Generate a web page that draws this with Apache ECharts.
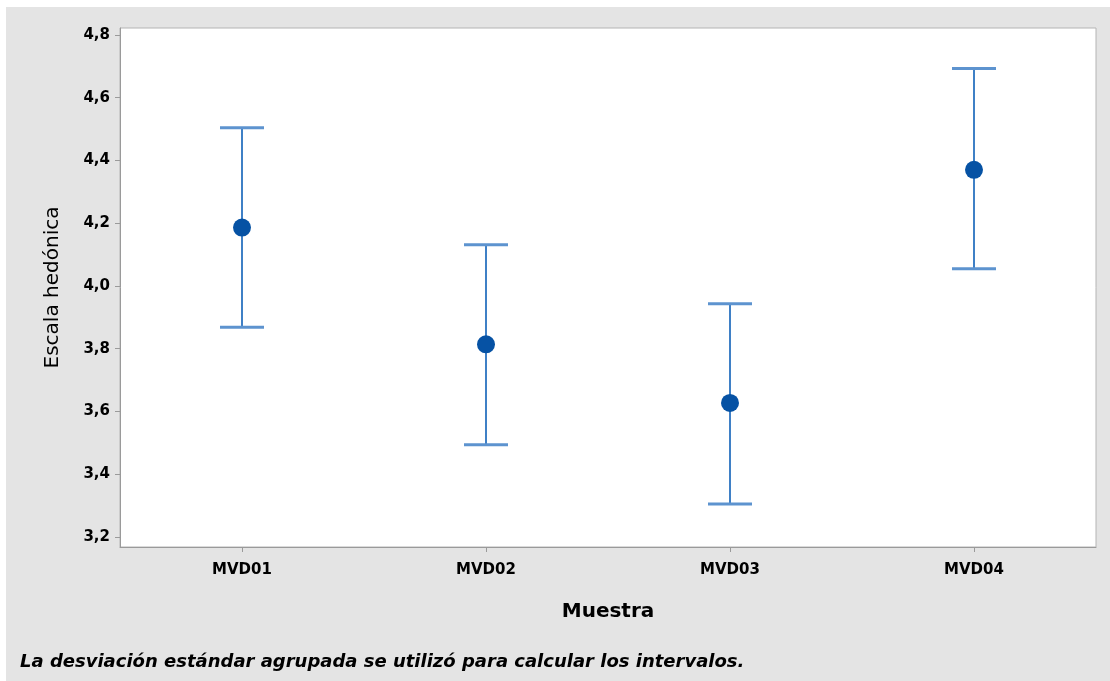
<!DOCTYPE html>
<html>
<head>
<meta charset="utf-8">
<script src="https://cdn.jsdelivr.net/npm/echarts@6/dist/echarts.min.js"></script>
<style>
  html, body { margin: 0; padding: 0; background: #ffffff; }
  #chart { position: absolute; left: 6px; top: 7px; width: 1104px; height: 674px; }
</style>
</head>
<body>
<div id="chart"></div>
<script>
// Muestras evaluadas
const categories = ['MVD01', 'MVD02', 'MVD03', 'MVD04'];
// Media de la escala hedónica por muestra
const means = [4.186, 3.814, 3.627, 4.370];
// Límites del intervalo (desviación estándar agrupada)
const lower = [3.868, 3.494, 3.305, 4.055];
const upper = [4.504, 4.131, 3.943, 4.693];
// Marcas del eje Y
const yTicks = [3.2, 3.4, 3.6, 3.8, 4.0, 4.2, 4.4, 4.6, 4.8];

const barColor = '#3f80c6';
const capColor = '#5d93cf';
const dotColor = '#0652a4';

const chart = echarts.init(document.getElementById('chart'));

const intervalData = categories.map((c, i) => [i, lower[i], upper[i]]);

chart.setOption({
  backgroundColor: '#e4e4e4',
  animation: false,
  grid: {
    left: 114, top: 21, right: 14, bottom: 134,
    show: true, backgroundColor: '#ffffff', borderColor: '#b4b4b4', borderWidth: 1
  },
  xAxis: {
    type: 'category',
    data: categories,
    boundaryGap: true,
    name: 'Muestra',
    nameLocation: 'middle',
    nameGap: 55,
    nameTextStyle: { fontFamily: 'DejaVu Sans', fontSize: 20, fontWeight: 'bold', color: '#000' },
    axisLine: { show: true, lineStyle: { color: '#9a9a9a' } },
    axisTick: { show: true, alignWithLabel: true, length: 5, lineStyle: { color: '#9a9a9a' } },
    axisLabel: { margin: 16, fontFamily: 'DejaVu Sans', fontSize: 15, fontWeight: 'bold', color: '#000' },
    splitLine: { show: false }
  },
  yAxis: {
    type: 'value',
    min: 3.168,
    max: 4.822,
    name: 'Escala hedónica',
    nameLocation: 'middle',
    nameGap: 57,
    nameRotate: 90,
    nameTextStyle: { fontFamily: 'DejaVu Sans', fontSize: 20, color: '#000' },
    axisLine: { show: true, lineStyle: { color: '#9a9a9a' } },
    axisTick: { show: true, length: 5, customValues: yTicks, lineStyle: { color: '#9a9a9a' } },
    axisLabel: {
      margin: 10,
      customValues: yTicks,
      fontFamily: 'DejaVu Sans', fontSize: 15, fontWeight: 'bold', color: '#000',
      formatter: v => v.toFixed(1).replace('.', ',')
    },
    splitLine: { show: false }
  },
  graphic: [{
    type: 'text',
    left: 14,
    top: 646,
    style: {
      text: 'La desviación estándar agrupada se utilizó para calcular los intervalos.',
      font: 'italic bold 18px "DejaVu Sans"',
      fill: '#000'
    }
  }],
  series: [
    {
      type: 'custom',
      data: intervalData,
      z: 2,
      renderItem: function (params, api) {
        const x = api.value(0);
        const lo = api.coord([x, api.value(1)]);
        const hi = api.coord([x, api.value(2)]);
        const half = 22;
        return {
          type: 'group',
          children: [
            { type: 'line', shape: { x1: lo[0], y1: lo[1], x2: hi[0], y2: hi[1] }, style: { stroke: barColor, lineWidth: 2 } },
            { type: 'line', shape: { x1: hi[0] - half, y1: hi[1], x2: hi[0] + half, y2: hi[1] }, style: { stroke: capColor, lineWidth: 3 } },
            { type: 'line', shape: { x1: lo[0] - half, y1: lo[1], x2: lo[0] + half, y2: lo[1] }, style: { stroke: capColor, lineWidth: 3 } }
          ]
        };
      }
    },
    {
      type: 'scatter',
      data: means,
      symbol: 'circle',
      symbolSize: 18,
      z: 3,
      itemStyle: { color: dotColor, opacity: 1 }
    }
  ]
});
</script>
</body>
</html>
